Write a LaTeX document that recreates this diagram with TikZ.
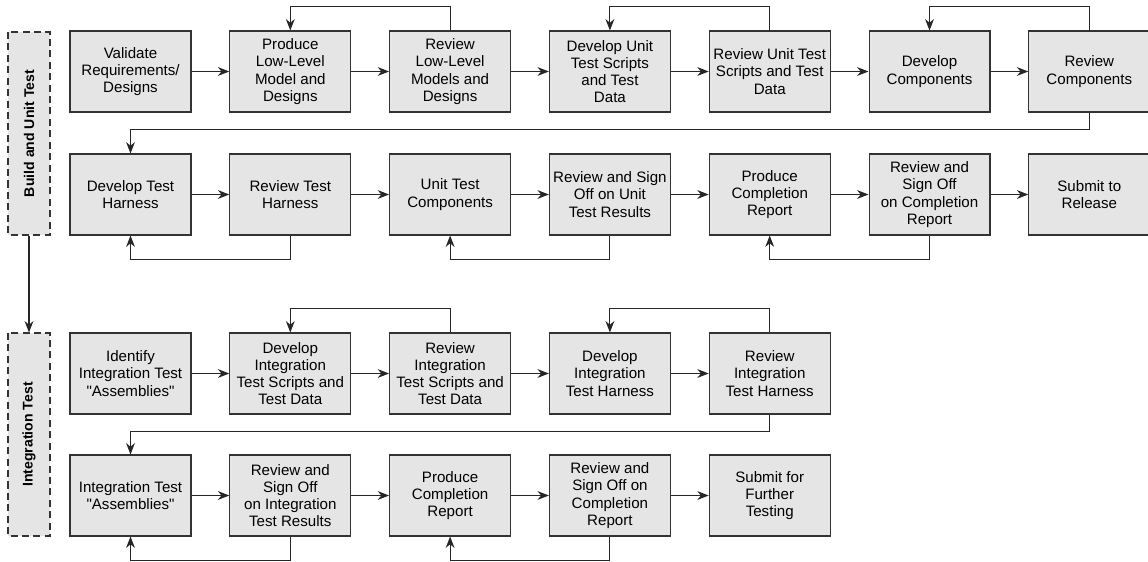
\documentclass[tikz,border=0pt]{standalone}
\usepackage{fontspec}
\setmainfont{Liberation Sans}
\usetikzlibrary{arrows.meta}
\tikzset{proc/.style = {draw=black!80,fill=black!10,line width=0.6pt,minimum width=2.42cm,minimum height=1.62cm,inner sep=0pt,align=center,font=\fontsize{8.6}{9.8}\selectfont}}
\tikzset{phase/.style = {draw=black!80,fill=black!10,line width=0.6pt,dash pattern=on 4pt off 2.5pt,minimum width=4.06cm,minimum height=0.84cm,inner sep=0pt,rotate=90,font=\fontsize{8}{9.7}\selectfont\bfseries}}
\tikzset{link/.style = {draw=black!85,line width=0.6pt,-{Stealth[length=6.5pt,width=5pt]}}}

\begin{document}
\begin{tikzpicture}[x=0.02cm,y=-0.02cm]
            \useasboundingbox (0,0) rectangle (1148,561);

            \node [phase] (bu) at (29,133.5) {Build and Unit Test};
            \node [phase] (it) at (29,434.5) {Integration Test};
            \draw [link] (bu.west) -- (it.east);

            % build and unit test
            \foreach \t [count=\i] in {{Validate\\Requirements/\\Designs}, {Produce\\Low-Level\\Model and\\Designs}, {Review\\Low-Level\\Models and\\Designs}, {Develop Unit\\Test Scripts\\and Test\\Data}, {Review Unit Test\\Scripts and Test\\Data}, {Develop\\Components}, {Review\\Components}}
                \node [proc] (b\i) at ({130.5+159.8*(\i-1)},71.5) {\t};
            \foreach \t [count=\i] in {{Develop Test\\Harness}, {Review Test\\Harness}, {Unit Test\\Components}, {Review and Sign\\Off on Unit\\Test Results}, {Produce\\Completion\\Report}, {Review and\\Sign Off\\on Completion\\Report}, {Submit to\\Release}}
                \node [proc] (c\i) at ({130.5+159.8*(\i-1)},194.5) {\t};

            % integration test
            \foreach \t [count=\i] in {{Identify\\Integration Test\\\textquotedbl Assemblies\textquotedbl}, {Develop\\Integration\\Test Scripts and\\Test Data}, {Review\\Integration\\Test Scripts and\\Test Data}, {Develop\\Integration\\Test Harness}, {Review\\Integration\\Test Harness}}
                \node [proc] (i\i) at ({130.5+159.8*(\i-1)},373.5) {\t};
            \foreach \t [count=\i] in {{Integration Test\\\textquotedbl Assemblies\textquotedbl}, {Review and\\Sign Off\\on Integration\\Test Results}, {Produce\\Completion\\Report}, {Review and\\Sign Off on\\Completion\\Report}, {Submit for\\Further\\Testing}}
                \node [proc] (j\i) at ({130.5+159.8*(\i-1)},495.5) {\t};

            \foreach \i [evaluate=\i as \j using int(\i+1)] in {1,...,6}{
                \draw [link] (b\i) -- (b\j);
                \draw [link] (c\i) -- (c\j);
            }
            \foreach \i [evaluate=\i as \j using int(\i+1)] in {1,...,4}{
                \draw [link] (i\i) -- (i\j);
                \draw [link] (j\i) -- (j\j);
            }

            % loops back
            \foreach \a/\b in {3/2, 5/4, 7/6}
                \draw [link] (b\a.north) -- ++(0,-24) -| (b\b.north);
            \foreach \a/\b in {2/1, 4/3, 6/5}
                \draw [link] (c\a.south) -- ++(0,24) -| (c\b.south);
            \foreach \a/\b in {3/2, 5/4}{
                \draw [link] (i\a.north) -- ++(0,-24) -| (i\b.north);
            }
            \foreach \a/\b in {2/1, 4/3}
                \draw [link] (j\a.south) -- ++(0,24) -| (j\b.south);

            \draw [link] (b7.south) -- ++(0,17) -| (c1.north);
            \draw [link] (i5.south) -- ++(0,17) -| (j1.north);
        \end{tikzpicture}
\end{document}
